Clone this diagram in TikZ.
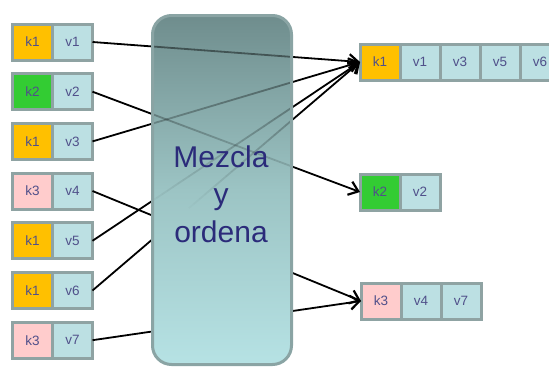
\documentclass[tikz,border=0pt]{standalone}
\usepackage{fontspec}
\setmainfont{Liberation Sans}
\usetikzlibrary{arrows.meta,calc}
\definecolor{cellborder}{HTML}{8FA3A3}
\definecolor{valfill}{HTML}{BCE0E3}
\definecolor{keyA}{HTML}{FFC000}
\definecolor{keyB}{HTML}{33CC33}
\definecolor{keyC}{HTML}{FFCCCC}
\definecolor{celltext}{HTML}{50508A}
\definecolor{boxtop}{HTML}{6F8D8D}
\definecolor{boxmid}{HTML}{9CC4C4}
\definecolor{boxbot}{HTML}{B6E2E4}
\definecolor{boxedge}{HTML}{8AA4A4}
\definecolor{titletext}{HTML}{2B2B7A}
\begin{document}
\begin{tikzpicture}[x=1pt,y=-1pt,
  cell/.style={draw=cellborder, line width=3pt, minimum width=40pt,
    minimum height=36pt, inner sep=0pt, outer sep=0pt,
    font=\fontsize{13.5}{13.5}\selectfont, text=celltext},
  val/.style={cell, fill=valfill},
  ka/.style={cell, fill=keyA},
  kb/.style={cell, fill=keyB},
  kc/.style={cell, fill=keyC},
  feed/.style={draw=black, line width=1.8pt},
  flow/.style={feed, -{Straight Barb[length=9pt,width=14pt,line width=2.2pt]}},
  mixer/.style={minimum width=139pt, minimum height=349pt,
    inner sep=0pt, outer sep=0pt},
  mixfill/.style={rounded corners=19pt, top color=boxtop,
    bottom color=boxbot, middle color=boxmid},
  mixedge/.style={draw=boxedge, line width=3pt, rounded corners=19pt}
]
\useasboundingbox (0,0) rectangle (549,367);

% input pairs (key, value)
\node[ka] (k1) at (32.5,42)    {k1}; \node[val] (v1) at (72.5,42)    {v1};
\node[kb] (k2) at (32.5,91.7)  {k2}; \node[val] (v2) at (72.5,91.7)  {v2};
\node[ka] (k3) at (32.5,141.4) {k1}; \node[val] (v3) at (72.5,141.4) {v3};
\node[kc] (k4) at (32.5,191)   {k3}; \node[val] (v4) at (72.5,191)   {v4};
\node[ka] (k5) at (32.5,240.8) {k1}; \node[val] (v5) at (72.5,240.8) {v5};
\node[ka] (k6) at (32.5,290.5) {k1}; \node[val] (v6) at (72.5,290.5) {v6};
\node[kc] (k7) at (32.5,340.2) {k3}; \node[val] (v7) at (72.5,340.2) {v7};

% grouped outputs
\node[ka] (ga) at (380,62) {k1};
\node[val] (ga1) at (420,62) {v1};
\node[val] (ga2) at (460,62) {v3};
\node[val] (ga3) at (500,62) {v5};
\node[val] (ga4) at (540,62) {v6};

\node[kb] (gb) at (380,192) {k2};
\node[val] (gb1) at (420,192) {v2};

\node[kc] (gc) at (381,301) {k3};
\node[val] (gc1) at (421,301) {v4};
\node[val] (gc2) at (461,301) {v7};

% routing of each pair to its group
\draw[flow] (v1.east) -- (ga.west);
\draw[flow] (v2.east) -- (gb.west);
\draw[flow] (v3.east) -- (ga.west);
\draw[flow] (v4.east) -- (gc.west);
\draw[flow] (v5.east) -- (ga.west);
\draw[flow] (v6.east) -- (ga.west);
\draw[flow] (v7.east) -- (gc.west);

% shuffle-and-sort stage, laid over the connectors
\node[mixer, anchor=north west] (mix) at (152.5,15.5) {};
\path[mixfill] (mix.south west) rectangle (mix.north east);

% connectors glimpsed through the stage: clearer near its top,
% vanishing towards the bottom
\begin{scope}
  \clip[rounded corners=19pt] (mix.south west) rectangle (mix.north east);
  \foreach \a/\b in {v1/ga, v2/gb, v3/ga, v4/gc, v5/ga, v6/ga, v7/gc} {
    \foreach \t in {0,0.02,...,0.98} {
      \path let \p1 = ($(\a.east)!\t!(\b.west)$),
                \p2 = ($(\a.east)!\t+0.02!(\b.west)$),
                \n1 = {max(0, 0.55 - (-0.5*(\y1+\y2)/1pt - 15)*0.0028)}
            in [feed, draw opacity=\n1] (\p1) -- (\p2);
    }
  }
\end{scope}

\path[mixedge] (mix.south west) rectangle (mix.north east);
\node[text=titletext, font=\fontsize{30}{37.5}\selectfont, align=center]
  (lbl) at (221,194) {Mezcla\\y\\ordena};
\end{tikzpicture}
\end{document}
